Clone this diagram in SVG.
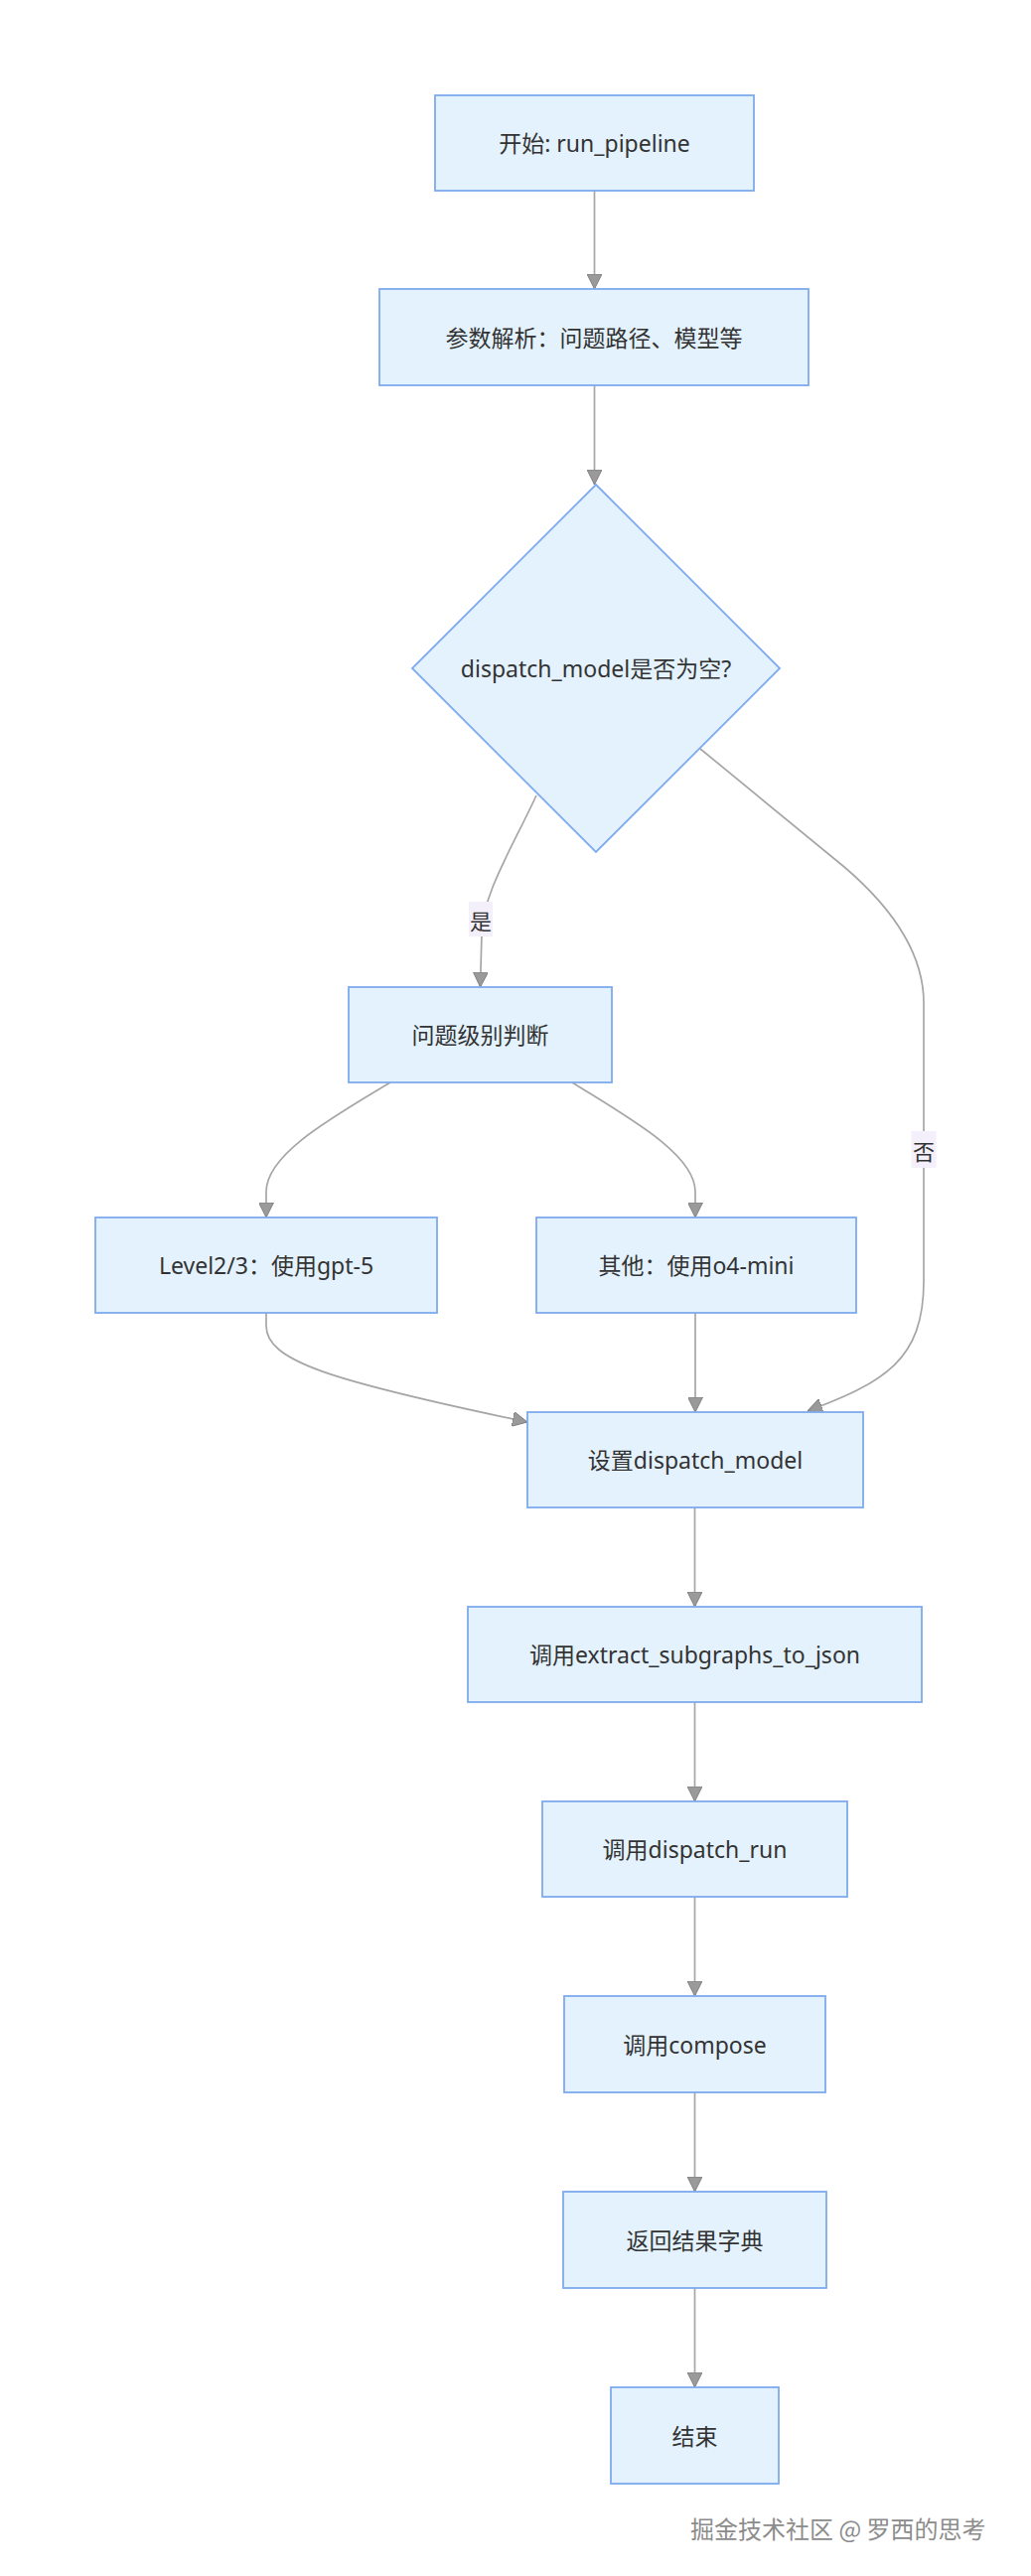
<svg xmlns="http://www.w3.org/2000/svg" width="1038" height="2594" viewBox="0 0 1038 2594">
<style>
.node rect,.node polygon{fill:#e3f2fd;stroke:#7eaaee;stroke-width:1.8}
.node text{font-family:"Noto Sans","Noto Sans CJK SC",sans-serif;font-size:23px;fill:#333;text-anchor:middle;dominant-baseline:central}
.edge{fill:none;stroke:#a6a6a6;stroke-width:1.7;marker-end:url(#arrow)}
.lbl rect{fill:#f3f0fb}
.lbl text{font-family:"Noto Sans CJK SC","Noto Sans",sans-serif;font-size:22px;fill:#333;text-anchor:middle;dominant-baseline:central}
.wm{font-family:"Noto Sans CJK SC",sans-serif;font-size:24px;fill:#8c8c8c;stroke:#fff;stroke-width:0.6;paint-order:stroke}
</style>
<defs>
<marker id="arrow" viewBox="0 0 10 10" refX="10" refY="5" markerWidth="15" markerHeight="15" markerUnits="userSpaceOnUse" orient="auto">
<path d="M0,0 L10,5 L0,10 z" fill="#9a9a9a" stroke="#7a7a7a" stroke-width="0.6"/>
</marker>
</defs>
<rect width="1038" height="2594" fill="#fff"/>
<g id="connectors">
<path class="edge" d="M598.5,192 L598.5,291"/>
<path class="edge" d="M598.5,388 L598.5,488"/>
<path class="edge" d="M540,801 C515,855 486,900 485,940 L483.5,994"/>
<path class="edge" d="M705,754 L850,873 C905,920 930,965 930,1010 L930,1290 C930,1370 890,1392 813,1421"/>
<path class="edge" d="M393,1090 C335,1125 268,1162 268,1200 L268,1226"/>
<path class="edge" d="M576,1090 C632,1125 700,1162 700,1200 L700,1226"/>
<path class="edge" d="M268,1322 L268,1335 C268,1370 330,1390 531,1432"/>
<path class="edge" d="M700,1322 L700,1422"/>
<path class="edge" d="M699.5,1518 L699.5,1618"/>
<path class="edge" d="M699.5,1714 L699.5,1814"/>
<path class="edge" d="M699.5,1910 L699.5,2010"/>
<path class="edge" d="M699.5,2107 L699.5,2207"/>
<path class="edge" d="M699.5,2304 L699.5,2404"/>
<g class="lbl"><rect x="472" y="908" width="24" height="35"/><text x="484" y="925.5">是</text></g>
<g class="lbl"><rect x="917.5" y="1139" width="25" height="37"/><text x="930" y="1157.5">否</text></g>
</g>
<g id="start" class="node"><rect x="438" y="96" width="321" height="96"/><text x="598.5" y="144">开始: run_pipeline</text></g>
<g id="parse" class="node"><rect x="382" y="291" width="432" height="97"/><text x="598" y="339.5">参数解析：问题路径、模型等</text></g>
<g id="decision" class="node"><polygon points="600,488 785,673 600,858 415,673"/><text x="600" y="673">dispatch_model是否为空?</text></g>
<g id="level" class="node"><rect x="351" y="994" width="265" height="96"/><text x="483.5" y="1042">问题级别判断</text></g>
<g id="gpt5" class="node"><rect x="96" y="1226" width="344" height="96"/><text x="268" y="1274">Level2/3：使用gpt-5</text></g>
<g id="o4mini" class="node"><rect x="540" y="1226" width="322" height="96"/><text x="701" y="1274">其他：使用o4-mini</text></g>
<g id="setmodel" class="node"><rect x="531" y="1422" width="338" height="96"/><text x="700" y="1470">设置dispatch_model</text></g>
<g id="extract" class="node"><rect x="471" y="1618" width="457" height="96"/><text x="699.5" y="1666">调用extract_subgraphs_to_json</text></g>
<g id="dispatchrun" class="node"><rect x="546" y="1814" width="307" height="96"/><text x="699.5" y="1862">调用dispatch_run</text></g>
<g id="compose" class="node"><rect x="568" y="2010" width="263" height="97"/><text x="699.5" y="2058.5">调用compose</text></g>
<g id="result" class="node"><rect x="567" y="2207" width="265" height="97"/><text x="699.5" y="2255.5">返回结果字典</text></g>
<g id="end" class="node"><rect x="615" y="2404" width="169" height="97"/><text x="699.5" y="2452.5">结束</text></g>
<text class="wm" x="695" y="2556">掘金技术社区 @ 罗西的思考</text>
</svg>
